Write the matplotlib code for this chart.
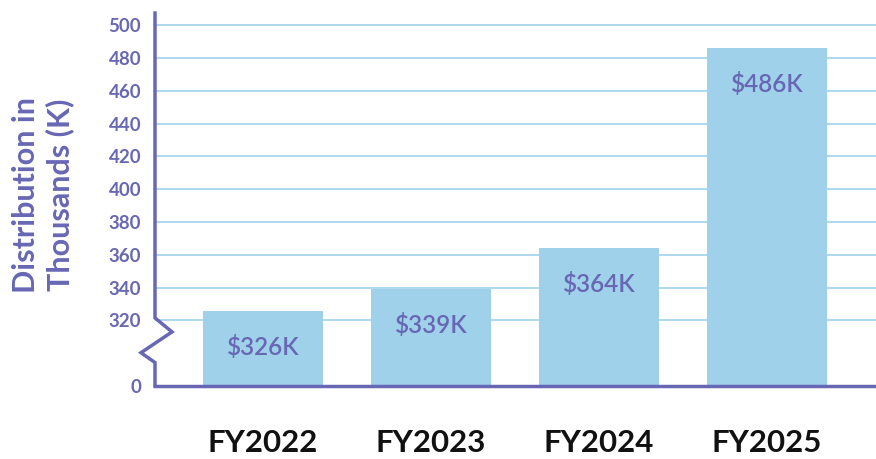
import numpy as np
import matplotlib
matplotlib.use("Agg")
import matplotlib.pyplot as plt
from matplotlib.transforms import blended_transform_factory

categories = ["FY2022", "FY2023", "FY2024", "FY2025"]
values = [326, 339, 364, 486]
bar_labels = ["$326K", "$339K", "$364K", "$486K"]
yticks = [0, 320, 340, 360, 380, 400, 420, 440, 460, 480, 500]

PURPLE = "#6767b4"
BAR = "#a0d1ea"
GRID = "#a6d6ee"

plt.rcParams['font.family'] = ['Lato', 'DejaVu Sans']

def fwd(v):
    v = np.asarray(v, dtype=float)
    return np.where(v >= 320, v, 280 + v * (40.0 / 320.0))

def inv(p):
    p = np.asarray(p, dtype=float)
    return np.where(p >= 320, p, (p - 280) * 8.0)

fig = plt.figure(figsize=(8.76, 4.59), dpi=100)
ax = fig.add_axes([155/876, 1 - 386/459, 1 - 155/876, (386 - 13)/459])
ax.set_yscale('function', functions=(fwd, inv))
x = np.arange(len(categories))
ax.bar(x, values, width=0.714, color=BAR, zorder=2)
ax.set_xlim(-0.643, 3.649)
ax.set_ylim(0, 507.5)

for v in yticks[1:]:
    ax.axhline(v, color=GRID, lw=1.3, zorder=1)

ax.set_yticks(yticks)
ax.set_yticklabels([str(t) for t in yticks])
ax.yaxis.set_minor_locator(matplotlib.ticker.NullLocator())
ax.tick_params(axis='y', length=0, pad=10, labelsize=13.5, labelcolor=PURPLE)
for lab in ax.get_yticklabels():
    lab.set_fontweight('bold')

ax.set_xticks(x)
ax.set_xticklabels(categories, fontsize=22.5, fontweight='bold', color='#111111')
ax.tick_params(axis='x', length=0, pad=31)

for s in ['top', 'right', 'left']:
    ax.spines[s].set_visible(False)
ax.spines['bottom'].set_color(PURPLE)
ax.spines['bottom'].set_linewidth(2.5)
ax.spines['bottom'].set_zorder(3)

# left spine with break zigzag (x in axes coords, y in data)
tr = blended_transform_factory(ax.transAxes, ax.transData)
dx = 1.0 / (876 - 155)
zig_x = [0, 0, 17*dx, -14*dx, 0, 0]
zig_y = [507.5, 321.5, inv(313.0).item(), inv(300.3).item(), inv(294.3).item(), 0]
ax.plot(zig_x, zig_y, transform=tr, color=PURPLE, lw=2.5, clip_on=False, zorder=3,
        solid_joinstyle='miter')

for xi, v, lab in zip(x, values, bar_labels):
    ax.annotate(lab, (xi, v), xytext=(0, -26), textcoords='offset points',
                ha='center', va='center', fontsize=17.5, fontweight='semibold',
                color=PURPLE, zorder=4)

fig.text(43/876, 1 - 195/459, "Distribution in\nThousands (K)", rotation=90,
         ha='center', va='center', fontsize=22, fontweight='bold', color=PURPLE,
         linespacing=1.2)

fig.savefig("out.png", dpi=100)
